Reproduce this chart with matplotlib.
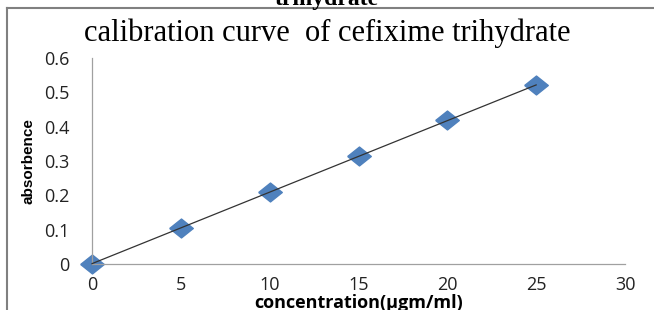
import matplotlib.pyplot as plt
import numpy as np
from matplotlib.lines import Line2D

# datos de la curva de calibracion
conc = [0, 5, 10, 15, 20, 25]
absorb = [0.0, 0.105, 0.21, 0.315, 0.418, 0.52]
xticks = [0, 5, 10, 15, 20, 25, 30]
yticks = [0, 0.1, 0.2, 0.3, 0.4, 0.5, 0.6]

W, H = 654, 310
fig = plt.figure(figsize=(W/100, H/100), dpi=100)
ax = fig.add_axes([92/W, 1-264/H, (625-92)/W, (264-58)/H])

# rombo un poco mas ancho que alto, como en la imagen
rombo = [(-1, 0), (0, 0.8), (1, 0), (0, -0.8), (-1, 0)]
ax.plot(conc, absorb, linestyle='none', marker=rombo, color='#4F81BD',
        markersize=17, zorder=2)

# linea de tendencia
p = np.polyfit(conc, absorb, 1)
xl = np.array([conc[0], conc[-1]])
ax.plot(xl, np.polyval(p, xl), color='#333333', lw=0.9, zorder=3)

ax.set_xlim(0, 30)
ax.set_ylim(0, 0.6)
ax.set_xticks(xticks)
ax.set_yticks(yticks)
ax.set_xticklabels([str(v) for v in xticks])
ax.set_yticklabels(['0'] + ['%.1f' % v for v in yticks[1:]])
ax.tick_params(length=0, labelsize=13, colors='#222222')
ax.tick_params(axis='y', pad=16)
ax.tick_params(axis='x', pad=9)
for lab in ax.get_xticklabels() + ax.get_yticklabels():
    lab.set_family('Open Sans')
ax.spines['top'].set_visible(False)
ax.spines['right'].set_visible(False)
for s in ['left', 'bottom']:
    ax.spines[s].set_color('#A0A0A0')
    ax.spines[s].set_linewidth(0.9)
for l in ax.lines:
    l.set_clip_on(False)

ax.set_xlabel('concentration(µgm/ml)', fontsize=13, fontweight='bold',
              family='Open Sans', labelpad=0)
ax.set_ylabel('absorbence', fontsize=11, fontweight='bold',
              family='Liberation Sans', labelpad=6)

fig.text(0.5, 1-33/H, 'calibration curve  of cefixime trihydrate', ha='center', va='center',
         fontsize=22, family='Liberation Serif')

# texto cortado arriba (asi aparece en la imagen original)
fig.text(0.5, 1-5/H, 'trihydrate', ha='center', va='baseline',
         fontsize=17, fontweight='bold', family='Liberation Serif')

# marco
fig.add_artist(Line2D([7/W, 1], [1-8/H, 1-8/H], transform=fig.transFigure, color='#808080', lw=1.5))
fig.add_artist(Line2D([7/W, 7/W], [0, 1-8/H], transform=fig.transFigure, color='#808080', lw=1.5))

fig.savefig('out.png', dpi=100)
